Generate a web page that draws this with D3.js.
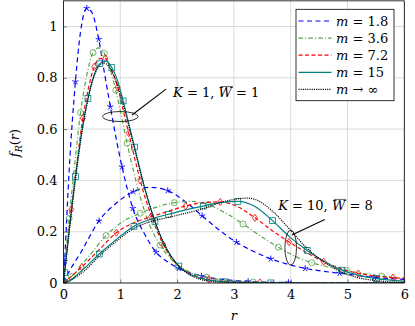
<!DOCTYPE html>
<html>
<head>
<meta charset="utf-8">
<script src="https://cdn.jsdelivr.net/npm/d3@7"></script>
<style>
body { margin: 0; background: #fff; }
svg { display: block; }
svg text { font-family: "DejaVu Serif", "Liberation Serif", "Times New Roman", serif; font-size: 13px; fill: #000; }
</style>
</head>
<body>
<script>
// ---- data ----
var xTicks = [0, 1, 2, 3, 4, 5, 6];
var yTicks = [0, 0.2, 0.4, 0.6, 0.8, 1];
var mValues = ['1.8', '3.6', '7.2', '15', '∞'];

// K = 1, W = 1
var rB1 = [0, 0.02, 0.1, 0.21, 0.3, 0.41, 0.5, 0.62, 0.72, 0.825, 0.93, 1.03, 1.12, 1.22, 1.43, 1.63, 1.83, 2.03, 2.43, 2.84, 3.25, 3.96, 5, 6];
var fB1 = [0, 0.085, 0.44, 0.785, 0.98, 1.071, 1.055, 0.95, 0.82, 0.687, 0.56, 0.453, 0.37, 0.291, 0.19, 0.12, 0.083, 0.057, 0.027, 0.013, 0.006, 0.002, 0.0003, 0];
var mkB1 = [0.02, 0.21, 0.41, 0.62, 0.825, 1.03, 1.22, 1.63, 2.03, 2.43, 3.25, 3.96];

var rG1 = [0, 0.1, 0.2, 0.3, 0.41, 0.52, 0.62, 0.72, 0.82, 0.92, 1.02, 1.12, 1.22, 1.32, 1.5, 1.7, 1.9, 2.1, 2.52, 2.9, 3.34, 4, 5, 6];
var fG1 = [0, 0.252, 0.47, 0.664, 0.81, 0.898, 0.917, 0.895, 0.835, 0.752, 0.65, 0.545, 0.448, 0.36, 0.235, 0.148, 0.092, 0.057, 0.022, 0.01, 0.004, 0.001, 0, 0];
var mkG1 = [0.1, 0.3, 0.52, 0.72, 0.92, 1.12, 1.7, 2.52, 3.34];

var rR1 = [0, 0.137, 0.24, 0.34, 0.44, 0.54, 0.64, 0.736, 0.85, 0.954, 1.05, 1.148, 1.25, 1.35, 1.55, 1.76, 2.0, 2.2, 2.56, 3.0, 3.46, 4, 5, 6];
var fR1 = [0, 0.287, 0.475, 0.642, 0.76, 0.843, 0.875, 0.876, 0.83, 0.763, 0.675, 0.584, 0.49, 0.40, 0.26, 0.148, 0.072, 0.04, 0.014, 0.005, 0.002, 0.0005, 0, 0];
var mkR1 = [0.137, 0.34, 0.54, 0.736, 0.954, 1.148, 1.35, 1.76, 2.56, 3.46];

var rT1 = [0, 0.02, 0.1, 0.21, 0.32, 0.43, 0.53, 0.64, 0.74, 0.85, 0.95, 1.05, 1.15, 1.25, 1.43, 1.61, 1.8, 2.03, 2.4, 2.84, 3.65, 4.5, 6];
var fT1 = [0, 0.04, 0.205, 0.415, 0.59, 0.72, 0.805, 0.855, 0.866, 0.84, 0.79, 0.71, 0.62, 0.53, 0.37, 0.24, 0.138, 0.066, 0.02, 0.005, 0.0005, 0, 0];
var mkT1 = [0.02, 0.21, 0.43, 0.64, 0.85, 1.05, 1.25, 1.61, 2.03, 2.84, 3.65];

var rK1 = [0, 0.1, 0.2, 0.3, 0.4, 0.5, 0.6, 0.7, 0.8, 0.9, 1.0, 1.1, 1.2, 1.3, 1.4, 1.5, 1.6, 1.7, 1.8, 1.9, 2.0, 2.2, 2.4, 2.6, 2.8, 3.0, 3.5, 6];
var fK1 = [0, 0.198, 0.384, 0.550, 0.682, 0.779, 0.837, 0.858, 0.844, 0.801, 0.736, 0.656, 0.569, 0.480, 0.394, 0.316, 0.247, 0.189, 0.141, 0.103, 0.073, 0.035, 0.015, 0.006, 0.002, 0.001, 0, 0];

// K = 10, W = 8
var rB10 = [0, 0.02, 0.32, 0.625, 0.93, 1.23, 1.53, 1.835, 2.14, 2.44, 2.74, 3.045, 3.35, 3.65, 3.95, 4.255, 4.56, 4.86, 5.16, 5.465, 5.76, 6];
var fB10 = [0, 0.01, 0.125, 0.242, 0.312, 0.356, 0.373, 0.36, 0.318, 0.262, 0.207, 0.159, 0.123, 0.094, 0.073, 0.057, 0.046, 0.038, 0.03, 0.022, 0.017, 0.014];
var mkB10 = [0.02, 0.625, 1.23, 1.835, 2.44, 3.045, 3.65, 4.255, 4.86, 5.465];

var rG10 = [0, 0.14, 0.45, 0.75, 1.05, 1.35, 1.65, 1.95, 2.25, 2.55, 2.86, 3.16, 3.47, 3.78, 4.07, 4.37, 4.67, 4.98, 5.3, 5.6, 6];
var fG10 = [0, 0.025, 0.105, 0.185, 0.24, 0.272, 0.297, 0.313, 0.318, 0.305, 0.272, 0.23, 0.183, 0.14, 0.105, 0.079, 0.062, 0.049, 0.036, 0.027, 0.018];
var mkG10 = [0.14, 0.75, 1.35, 1.95, 2.55, 3.16, 3.78, 4.37, 4.98, 5.6];

var rR10 = [0, 0.32, 0.63, 0.93, 1.24, 1.54, 1.85, 2.15, 2.46, 2.76, 3.07, 3.37, 3.67, 3.97, 4.27, 4.58, 4.88, 5.19, 5.5, 5.8, 6];
var fR10 = [0, 0.062, 0.13, 0.196, 0.235, 0.258, 0.28, 0.3, 0.313, 0.316, 0.297, 0.254, 0.205, 0.16, 0.12, 0.083, 0.057, 0.037, 0.027, 0.021, 0.018];
var mkR10 = [0.32, 0.93, 1.54, 2.15, 2.76, 3.37, 3.97, 4.58, 5.19, 5.8];

var rT10 = [0, 0.02, 0.33, 0.63, 0.93, 1.24, 1.55, 1.85, 2.15, 2.46, 2.76, 3.07, 3.37, 3.68, 3.98, 4.29, 4.6, 4.9, 5.2, 5.51, 6];
var fT10 = [0, 0, 0.05, 0.113, 0.17, 0.221, 0.25, 0.268, 0.285, 0.30, 0.313, 0.318, 0.298, 0.243, 0.18, 0.127, 0.083, 0.05, 0.03, 0.017, 0.007];
var mkT10 = [0.02, 0.63, 1.24, 1.85, 2.46, 3.07, 3.68, 4.29, 4.9, 5.51];

var rK10 = [0, 0.33, 0.63, 0.93, 1.24, 1.55, 1.85, 2.15, 2.46, 2.76, 3.07, 3.23, 3.37, 3.68, 3.98, 4.29, 4.6, 4.9, 5.2, 5.51, 6];
var fK10 = [0, 0.04, 0.105, 0.163, 0.213, 0.24, 0.256, 0.272, 0.29, 0.313, 0.328, 0.331, 0.326, 0.28, 0.21, 0.135, 0.08, 0.042, 0.02, 0.009, 0.002];

// ---- styles ----
var FONT = '"DejaVu Serif", "Liberation Serif", "Times New Roman", serif';
var styles = [
	{color: 'blue',    dash: '5,3.5',           mark: 'star'},
	{color: '#55a447', dash: '4.5,2.2,1,2.2',   mark: 'circle'},
	{color: 'red',     dash: '4,2.5',           mark: 'diamond'},
	{color: '#008080', dash: null,              mark: 'square'},
	{color: 'black',   dash: '1.1,1.1',         mark: null}
];

var series = [
	{r: rB1, f: fB1, mk: mkB1, s: 0}, {r: rB10, f: fB10, mk: mkB10, s: 0},
	{r: rG1, f: fG1, mk: mkG1, s: 1}, {r: rG10, f: fG10, mk: mkG10, s: 1},
	{r: rR1, f: fR1, mk: mkR1, s: 2}, {r: rR10, f: fR10, mk: mkR10, s: 2},
	{r: rT1, f: fT1, mk: mkT1, s: 3}, {r: rT10, f: fT10, mk: mkT10, s: 3},
	{r: rK1, f: fK1, mk: [], s: 4},   {r: rK10, f: fK10, mk: [], s: 4}
];

var W = 415, H = 326;
var x = d3.scaleLinear().domain([0, 6]).range([63.5, 404.3]);
var y = d3.scaleLinear().domain([0, 1.1]).range([283, 0.85]);

var svg = d3.select('body').append('svg').attr('width', W).attr('height', H)
	.attr('font-family', FONT).attr('font-size', 13);

svg.append('defs').append('clipPath').attr('id', 'clip')
	.append('rect').attr('x', x(0)).attr('y', y(1.1))
	.attr('width', x(6) - x(0)).attr('height', y(0) - y(1.1));

// grid
var grid = svg.append('g').attr('stroke', '#cccccc').attr('stroke-width', 0.7);
grid.selectAll('.vx').data(xTicks).enter().append('line')
	.attr('x1', d => x(d)).attr('x2', d => x(d)).attr('y1', y(0)).attr('y2', y(1.1));
grid.selectAll('.hy').data(yTicks).enter().append('line')
	.attr('x1', x(0)).attr('x2', x(6)).attr('y1', d => y(d)).attr('y2', d => y(d));

// axes (labels only, ticks inside)
var xAxis = d3.axisBottom(x).tickValues(xTicks).tickSize(-3.5).tickPadding(7).tickFormat(d3.format('d'));
var yAxis = d3.axisLeft(y).tickValues(yTicks).tickSize(-3.5).tickPadding(6).tickFormat(d => d === 0 || d === 1 ? d : d.toFixed(1));
var gx = svg.append('g').attr('transform', 'translate(0,' + y(0) + ')').call(xAxis);
var gy = svg.append('g').attr('transform', 'translate(' + x(0) + ',0)').call(yAxis);
[gx, gy].forEach(function(g) {
	g.attr('font-family', FONT).attr('font-size', 13);
	g.select('.domain').remove();
	g.selectAll('.tick line').attr('stroke', '#333').attr('stroke-width', 0.6);
	g.selectAll('text').attr('fill', '#000');
});

// curves
var line = d3.line().x(d => x(d.r)).y(d => y(d.f)).curve(d3.curveMonotoneX);
var plot = svg.append('g').attr('clip-path', 'url(#clip)');

function drawMark(g, type, px, py, color) {
	if (type === 'star') {
		for (var k = 0; k < 5; k++) {
			var a = (-90 + 72 * k) * Math.PI / 180;
			g.append('line').attr('x1', px).attr('y1', py)
				.attr('x2', px + 3.3 * Math.cos(a)).attr('y2', py + 3.3 * Math.sin(a))
				.attr('stroke', color).attr('stroke-width', 0.9);
		}
	} else if (type === 'circle') {
		g.append('circle').attr('cx', px).attr('cy', py).attr('r', 3)
			.attr('fill', 'none').attr('stroke', color).attr('stroke-width', 0.8);
	} else if (type === 'diamond') {
		g.append('path').attr('d', 'M' + px + ',' + (py - 3.6) + 'L' + (px + 2.5) + ',' + py +
			'L' + px + ',' + (py + 3.6) + 'L' + (px - 2.5) + ',' + py + 'Z')
			.attr('fill', 'none').attr('stroke', color).attr('stroke-width', 0.8);
	} else if (type === 'square') {
		g.append('rect').attr('x', px - 2.9).attr('y', py - 2.9).attr('width', 5.8).attr('height', 5.8)
			.attr('fill', 'none').attr('stroke', color).attr('stroke-width', 0.8);
	}
}

series.forEach(function(se) {
	var st = styles[se.s];
	var pts = se.r.map((d, i) => ({r: d, f: se.f[i]}));
	plot.append('path').datum(pts).attr('d', line)
		.attr('fill', 'none').attr('stroke', st.color).attr('stroke-width', 1.2)
		.attr('stroke-dasharray', st.dash);
	var mg = plot.append('g');
	pts.filter(p => se.mk.indexOf(p.r) >= 0).forEach(function(p) {
		drawMark(mg, st.mark, x(p.r), y(p.f), st.color);
	});
});

// frame
svg.append('rect').attr('x', x(0)).attr('y', y(1.1)).attr('width', x(6) - x(0)).attr('height', y(0) - y(1.1))
	.attr('fill', 'none').attr('stroke', '#000').attr('stroke-width', 0.8);

// annotations
function label(px, py, kVal, wVal) {
	var t = svg.append('text').attr('x', px).attr('y', py);
	t.append('tspan').attr('font-style', 'italic').text('K');
	t.append('tspan').text(' = ' + kVal + ', ');
	var w = t.append('tspan').attr('font-style', 'italic').text('W');
	t.append('tspan').text(' = ' + wVal);
	var box = w.node().getExtentOfChar(0);
	svg.append('line').attr('x1', box.x + 2).attr('x2', box.x + box.width + 1)
		.attr('y1', box.y + 1.5).attr('y2', box.y + 1.5).attr('stroke', '#000').attr('stroke-width', 0.6);
}
var ann = svg.append('g').attr('fill', 'none').attr('stroke', '#000');
ann.append('ellipse').attr('cx', x(1.0)).attr('cy', y(0.649)).attr('rx', 17.8).attr('ry', 5).attr('stroke-width', 0.8);
ann.append('line').attr('x1', x(1.805)).attr('y1', y(0.756)).attr('x2', x(1.206)).attr('y2', y(0.655)).attr('stroke-width', 1.1);
label(x(1.93), y(0.725), '1', '1');

ann.append('ellipse').attr('cx', x(4.0)).attr('cy', y(0.138)).attr('rx', 5.8).attr('ry', 17.5).attr('stroke-width', 0.8);
ann.append('line').attr('x1', x(4.6)).attr('y1', y(0.248)).attr('x2', x(4.02)).attr('y2', y(0.187)).attr('stroke-width', 1.1);
label(x(3.78), y(0.285), '10', '8');

// axis labels
svg.append('text').attr('x', x(3)).attr('y', 320).attr('text-anchor', 'middle')
	.attr('font-style', 'italic').text('r');
var yl = svg.append('text').attr('transform', 'translate(19,143) rotate(-90)').attr('text-anchor', 'middle');
yl.append('tspan').attr('font-style', 'italic').text('f');
yl.append('tspan').attr('font-style', 'italic').attr('font-size', '9.5px').attr('dy', 3).text('R');
yl.append('tspan').attr('dy', -3).text('(');
yl.append('tspan').attr('font-style', 'italic').text('r');
yl.append('tspan').text(')');

// legend
var lg = svg.append('g');
lg.append('rect').attr('x', 296).attr('y', 9.3).attr('width', 98).attr('height', 91.4)
	.attr('fill', '#fff').attr('stroke', '#000').attr('stroke-width', 0.8);
mValues.forEach(function(v, i) {
	var st = styles[i];
	var ly = 21 + i * 17.1;
	lg.append('line').attr('x1', 298.5).attr('x2', 331.5).attr('y1', ly).attr('y2', ly)
		.attr('stroke', st.color).attr('stroke-width', 1.2).attr('stroke-dasharray', st.dash);
	var t = lg.append('text').attr('x', 336).attr('y', ly + 4.5);
	t.append('tspan').attr('font-style', 'italic').text('m');
	t.append('tspan').text(v === '∞' ? ' → ∞' : ' = ' + v);
});
</script>
</body>
</html>
